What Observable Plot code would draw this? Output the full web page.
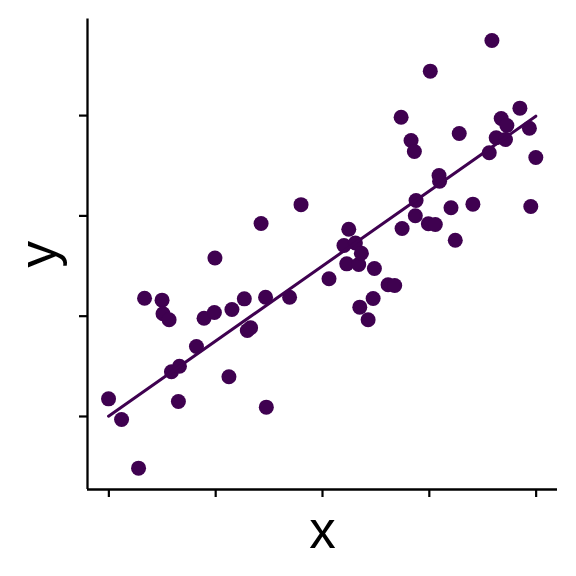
<!DOCTYPE html>
<html>
<head>
<meta charset="utf-8">
<script src="https://cdn.jsdelivr.net/npm/d3@7"></script>
<script src="https://cdn.jsdelivr.net/npm/@observablehq/plot@0.6"></script>
<style>
  html, body { margin: 0; padding: 0; background: #fff; }
  #chart { width: 576px; height: 576px; }
</style>
</head>
<body>
<div id="chart"></div>
<script>
const xs = [-0.003,0.119,0.278,0.334,0.498,0.507,0.564,0.586,0.661,0.651,0.820,0.891,0.988,0.993,1.124,1.152,1.268,1.296,1.327,1.425,1.467,1.474,1.692,1.799,2.061,2.201,2.246,2.227,2.308,2.339,2.364,2.349,2.427,2.474,2.486,2.614,2.676,2.736,2.745,2.829,2.860,2.869,2.876,3.009,2.991,3.056,3.091,3.096,3.203,3.243,3.280,3.408,3.561,3.586,3.626,3.673,3.713,3.726,3.848,3.937,3.950,3.997];
const ys = [0.176,-0.030,-0.515,1.179,1.160,1.024,0.964,0.446,0.501,0.150,0.698,0.980,1.037,1.580,0.396,1.067,1.173,0.857,0.884,1.924,1.189,0.093,1.189,2.112,1.373,1.705,1.867,1.522,1.730,1.515,1.628,1.090,0.964,1.176,1.476,1.313,1.306,2.984,1.874,2.752,2.642,2.001,2.154,3.443,1.921,1.914,2.403,2.346,2.081,1.757,2.822,2.117,2.629,3.749,2.779,2.971,2.762,2.901,3.074,2.874,2.094,2.582];
// fitted line
const fitX = [-0.003, 3.997];
const fitY = [0.003, 2.994];
const xTicks = [0, 1, 2, 3, 4];
const yTicks = [0, 1, 2, 3];
const xLabel = "x";
const yLabel = "y";

const data = xs.map((x, i) => ({x, y: ys[i]}));
const fit = fitX.map((x, i) => ({x, y: fitY[i]}));
const col = "#3f0150";
const xDom = [-0.2, 4.2];
const yDom = [-0.728, 3.962];

const chart = Plot.plot({
  width: 576,
  height: 576,
  marginLeft: 87,
  marginRight: 19,
  marginTop: 18.6,
  marginBottom: 87,
  style: {fontFamily: "'Liberation Sans', Arial, sans-serif", background: "#fff"},
  x: {domain: xDom},
  y: {domain: yDom},
  marks: [
    Plot.axisX({ticks: xTicks, tickSize: 8, tickFormat: () => "", strokeWidth: 2.2, stroke: "#000", label: null}),
    Plot.axisY({ticks: yTicks, tickSize: 8, tickFormat: () => "", strokeWidth: 2.2, stroke: "#000", label: null}),
    Plot.ruleX([xDom[0]], {y1: yDom[0], y2: yDom[1], stroke: "#000", strokeWidth: 2.3}),
    Plot.ruleY([yDom[0]], {x1: xDom[0], x2: xDom[1], stroke: "#000", strokeWidth: 2.3}),
    Plot.dot(data, {x: "x", y: "y", r: 7.5, fill: col, stroke: "none"}),
    Plot.line(fit, {x: "x", y: "y", stroke: col, strokeWidth: 3}),
    Plot.text([xLabel], {frameAnchor: "bottom", dy: 58, text: d => d, fontSize: 53, fill: "#000", textAnchor: "middle", lineAnchor: "bottom"}),
    Plot.text([yLabel], {frameAnchor: "left", dx: -32, text: d => d, fontSize: 53, fill: "#000", rotate: -90, textAnchor: "middle", lineAnchor: "bottom"})
  ]
});
document.getElementById("chart").appendChild(chart);
</script>
</body>
</html>
